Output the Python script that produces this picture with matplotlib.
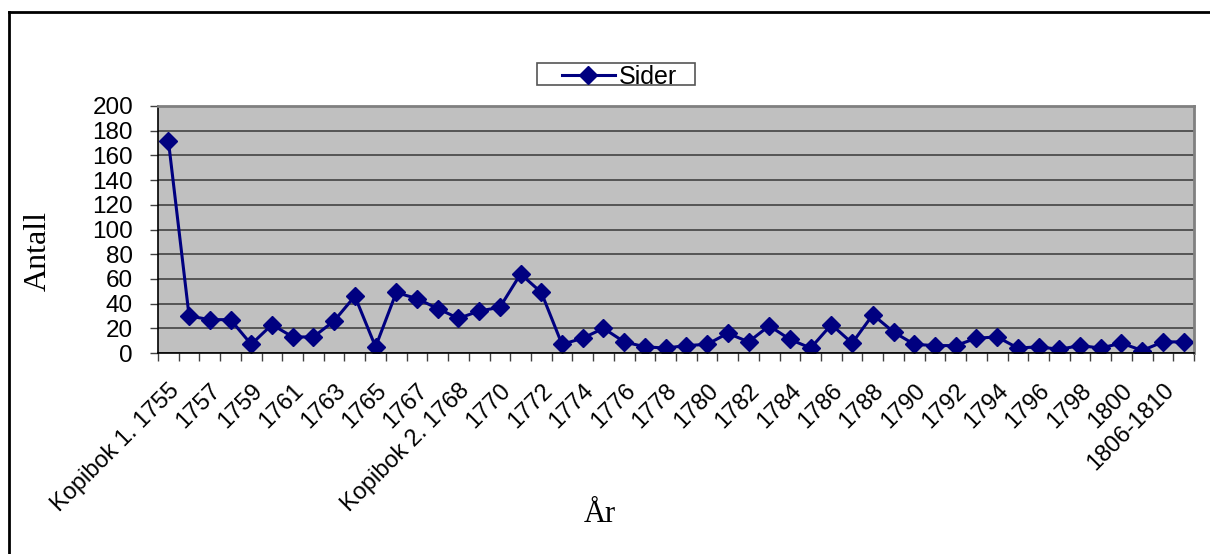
import matplotlib
matplotlib.use("Agg")
import matplotlib.pyplot as plt
from matplotlib.lines import Line2D
from matplotlib.patches import Rectangle
from matplotlib.transforms import ScaledTranslation

# --- categories (x) and page counts ---
years = ["Kopibok 1. 1755", "1756", "1757", "1758", "1759", "1760", "1761", "1762",
         "1763", "1764", "1765", "1766", "1767", "1768", "Kopibok 2. 1768", "1769",
         "1770", "1771", "1772", "1773", "1774", "1775", "1776", "1777", "1778",
         "1779", "1780", "1781", "1782", "1783", "1784", "1785", "1786", "1787",
         "1788", "1789", "1790", "1791", "1792", "1793", "1794", "1795", "1796",
         "1797", "1798", "1799", "1800", "1801-1805", "1806-1810", "1811-1815"]
sider = [172, 30, 27, 27, 7, 23, 13, 13, 26, 46, 5, 49, 44, 36, 28, 34, 37, 64, 49, 7,
         12, 20, 9, 5, 4, 6, 7, 16, 9, 22, 11, 4, 23, 8, 31, 17, 7, 6, 6, 12,
         13, 4, 5, 3, 6, 4, 8, 2, 9, 9]
yticks = [0, 20, 40, 60, 80, 100, 120, 140, 160, 180, 200]

W, H = 1210, 554
fig = plt.figure(figsize=(W / 100, H / 100), dpi=100)
ax = fig.add_axes([158 / W, 1 - 353 / H, (1194 - 158) / W, (353 - 106) / H])

# outer chart frame (cut off at right and bottom like the original)
fig.add_artist(Line2D([9 / W, 9 / W], [0, 1 - 12 / H], color="black", lw=2))
fig.add_artist(Line2D([9 / W, 1], [1 - 12 / H, 1 - 12 / H], color="black", lw=2))

ax.set_facecolor("#c0c0c0")
n = len(years)
xs = [i + 0.5 for i in range(n)]
ax.plot(xs, sider, color="#000080", lw=2.2, marker="D", markersize=9,
        markerfacecolor="#000080", markeredgecolor="#000080")

ax.set_xlim(0, n)
ax.set_ylim(0, 200)
ax.set_yticks(yticks)
ax.yaxis.grid(True, color="#383838", lw=1.1)
ax.set_axisbelow(True)

# category boundary ticks + labels on every other category
ax.set_xticks(range(n + 1))
ax.set_xticklabels([])
ax.set_xticks([x for i, x in enumerate(xs) if i % 2 == 0], minor=True)
ax.set_xticklabels([y for i, y in enumerate(years) if i % 2 == 0], minor=True,
                   rotation=45, ha="right", va="top", rotation_mode="anchor",
                   fontsize=17, family="Liberation Sans")
shift = ScaledTranslation(-7 / 100, 0, fig.dpi_scale_trans)
for lbl in ax.get_xticklabels(minor=True):
    lbl.set_transform(lbl.get_transform() + shift)
ax.tick_params(axis="x", which="major", length=6, width=1, color="#404040", direction="out")
ax.tick_params(axis="x", which="minor", length=0, pad=19)
ax.tick_params(axis="y", length=6, width=1, color="#404040", pad=12)
for lbl in ax.get_yticklabels():
    lbl.set_family("Liberation Sans")
    lbl.set_fontsize(17.5)

for side in ["top", "right"]:
    ax.spines[side].set_color("#808080")
    ax.spines[side].set_linewidth(2)
for side in ["left", "bottom"]:
    ax.spines[side].set_color("black")
    ax.spines[side].set_linewidth(1.2)

fig.text(38 / W, 1 - 251 / H, "Antall", rotation=90, ha="center", va="center",
         fontsize=23, family="Liberation Serif")
fig.text(600 / W, 1 - 514 / H, "År", ha="center", va="center",
         fontsize=22, family="Liberation Serif")

# legend box drawn by hand so the text spills over the frame as in the original
fig.add_artist(Rectangle((537 / W, 1 - 85 / H), (695 - 537) / W, 22 / H,
                         transform=fig.transFigure, facecolor="white",
                         edgecolor="#555555", lw=1.2))
fig.add_artist(Line2D([562 / W, 615 / W], [1 - 75 / H, 1 - 75 / H],
                      color="#000080", lw=2.2))
fig.add_artist(Line2D([588 / W], [1 - 75 / H], marker="D", markersize=9,
                      color="#000080"))
fig.text(619 / W, 1 - 77 / H, "Sider", ha="left", va="center",
         fontsize=18, family="Liberation Sans")

fig.savefig("out.png", dpi=100)
